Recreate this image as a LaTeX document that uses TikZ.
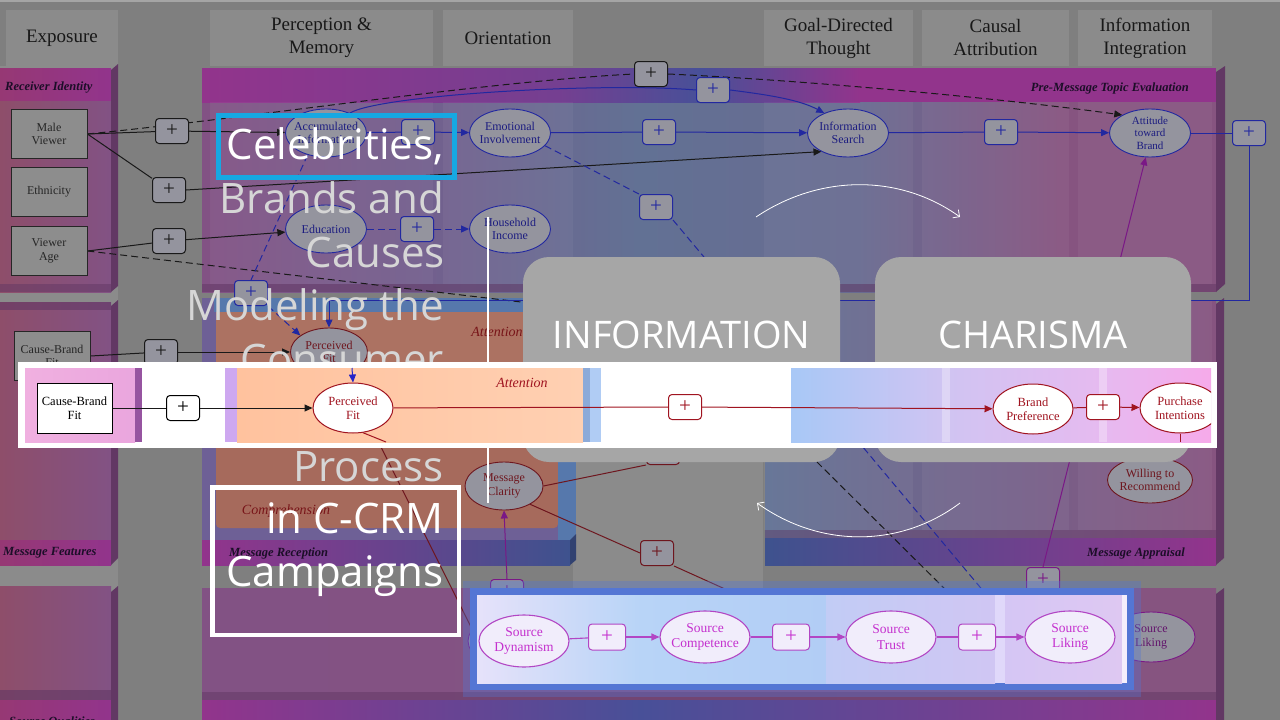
\documentclass[tikz,border=0pt]{standalone}
\usepackage{fontspec}
\setmainfont{Liberation Serif}
\newfontfamily\ttlfont{Open Sans}
\usetikzlibrary{shapes.geometric,arrows.meta}
\definecolor{bgc}{RGB}{127,127,127}
\definecolor{hdrc}{RGB}{139,139,139}
\definecolor{hdrtxt}{RGB}{24,24,24}
\definecolor{topline}{RGB}{165,165,165}
\definecolor{magbar}{RGB}{146,52,140}
\definecolor{magbarL}{RGB}{150,56,116}
\definecolor{barblue}{RGB}{72,80,152}
\definecolor{bandpur}{RGB}{130,82,132}
\definecolor{bandmid}{RGB}{114,96,142}
\definecolor{bandblue}{RGB}{98,113,148}
\definecolor{bandpink}{RGB}{134,84,128}
\definecolor{leftred}{RGB}{142,78,106}
\definecolor{edgec}{RGB}{98,56,100}
\definecolor{lbltxt}{RGB}{28,14,40}
\definecolor{navyt}{RGB}{28,28,128}
\definecolor{bluel}{RGB}{34,40,160}
\definecolor{nodefill}{RGB}{148,148,158}
\definecolor{boxfill}{RGB}{141,141,141}
\definecolor{dred}{RGB}{110,22,30}
\definecolor{dpurp}{RGB}{122,24,134}
\definecolor{recpur}{RGB}{110,96,150}
\definecolor{orangeA}{RGB}{172,114,98}
\definecolor{orangeB}{RGB}{166,106,92}
\definecolor{recblue}{RGB}{86,120,172}
\definecolor{recdark}{RGB}{62,82,142}
\definecolor{infobox}{RGB}{166,166,166}
\definecolor{cyanc}{RGB}{22,168,226}
\definecolor{ttlgray}{RGB}{214,214,214}
\definecolor{brred}{RGB}{160,20,32}
\definecolor{brpink}{RGB}{240,176,224}
\definecolor{brpink2}{RGB}{234,166,222}
\definecolor{brpurp}{RGB}{150,84,160}
\definecolor{brlav}{RGB}{206,168,240}
\definecolor{brorange}{RGB}{255,194,158}
\definecolor{brorange2}{RGB}{255,208,178}
\definecolor{brblueA}{RGB}{176,204,244}
\definecolor{brblueB}{RGB}{140,170,216}
\definecolor{grA}{RGB}{168,200,246}
\definecolor{grB}{RGB}{208,196,242}
\definecolor{grC}{RGB}{230,186,240}
\definecolor{grD}{RGB}{246,170,234}
\definecolor{bluearrow}{RGB}{36,36,200}
\definecolor{glow}{RGB}{84,118,212}
\definecolor{lsA}{RGB}{230,226,250}
\definecolor{lsB}{RGB}{184,212,247}
\definecolor{lsC}{RGB}{178,205,245}
\definecolor{lsD}{RGB}{194,204,245}
\definecolor{lsE}{RGB}{208,198,243}
\definecolor{lsF}{RGB}{224,216,250}
\definecolor{lsG}{RGB}{213,198,244}
\definecolor{lsH}{RGB}{222,200,242}
\definecolor{srcmag}{RGB}{196,48,206}
\definecolor{srcline}{RGB}{178,70,196}
\definecolor{srcfill}{RGB}{241,237,251}
\definecolor{attred}{RGB}{120,20,24}
\pgfdeclarelayer{base}
\pgfdeclarelayer{lines}
\pgfdeclarelayer{top}
\pgfsetlayers{base,lines,main,top}
\begin{document}
\begin{tikzpicture}[x=1pt,y=-1pt,
  hdr/.style={fill=hdrc, text=hdrtxt, font=\fontsize{19}{23}\selectfont, align=center, inner sep=0pt},
  bglabel/.style={font=\fontsize{12.5}{14}\selectfont\bfseries\itshape, text=lbltxt, inner sep=0pt},
  itlabel/.style={font=\fontsize{14}{16}\selectfont\itshape, text=attred, inner sep=0pt},
  bgbox/.style={rectangle, draw=black!85, line width=0.9pt, fill=boxfill, minimum width=76pt, minimum height=49pt, inner sep=0pt, align=center, font=\fontsize{12}{13.5}\selectfont, text=black!85},
  bgell/.style={ellipse, draw=bluel, line width=0.9pt, fill=nodefill, minimum width=81pt, minimum height=48pt, inner xsep=-6pt, inner ysep=0pt, align=center, font=\fontsize{12}{13.5}\selectfont, text=navyt},
  bgellr/.style={bgell, draw=dred, text=dred},
  pl/.style={rectangle, rounded corners=3.5pt, draw=#1, line width=1pt, fill=nodefill, text=#1, minimum width=33pt, minimum height=25pt, inner sep=0pt, font=\fontsize{21}{21}\selectfont},
  tip/.style={-{Triangle[length=8pt,width=7pt]}},
  dsh/.style={dash pattern=on 7pt off 4pt},
  bln/.style={draw=bluel, line width=1pt},
  kln/.style={draw=black!90, line width=1pt},
  rln/.style={draw=dred, line width=1pt},
  pln/.style={draw=dpurp, line width=1pt},
  brln/.style={draw=brred, line width=1pt},
  sln/.style={draw=srcline, line width=1.1pt},
  brell/.style={ellipse, draw=brred, line width=1pt, fill=white, text=brred, minimum width=80pt, minimum height=50pt, inner xsep=-5pt, inner ysep=0pt, align=center, font=\fontsize{12.5}{14}\selectfont},
  brbox/.style={rectangle, draw=black, line width=1pt, fill=white, minimum width=75pt, minimum height=50pt, inner sep=0pt, align=center, font=\fontsize{12.5}{14}\selectfont},
  srcell/.style={ellipse, draw=srcline, line width=1.1pt, fill=srcfill, text=srcmag, minimum width=90pt, minimum height=52pt, inner xsep=-6pt, inner ysep=0pt, align=center, font=\fontsize{13.5}{15.5}\selectfont},
  spl/.style={pl=srcline, fill=srcfill, text=srcmag, minimum width=37pt, minimum height=26pt},
  ttl/.style={font=\ttlfont\fontsize{42}{50}\selectfont, inner sep=0pt, anchor=base east},
  bigtxt/.style={font=\ttlfont\fontsize{38}{40}\selectfont, text=white, inner sep=0pt, anchor=base}
]
\useasboundingbox (0,0) rectangle (1280,720);

%================ BASE LAYER: background, headers, bands
\begin{pgfonlayer}{base}
\fill[bgc] (0,0) rectangle (1280,720);
\fill[topline] (0,0) rectangle (1280,2);
\fill[hdrc] (0,66) rectangle (118,720);
\fill[hdrc] (573,292) rectangle (763,588);
\node[hdr, minimum width=112pt, minimum height=56pt] (hexp) at (62,38) {\raisebox{2pt}{Exposure}};
\node[hdr, minimum width=223pt, minimum height=56pt] (hpm) at (321.5,38) {Perception \&\\Memory};
\node[hdr, minimum width=130pt, minimum height=56pt] (hor) at (508,38) {Orientation};
\node[hdr, minimum width=149pt, minimum height=56pt] (hgd) at (838.5,38) {Goal-Directed\\Thought};
\node[hdr, minimum width=147pt, minimum height=56pt] (hca) at (995.5,38) {Causal\\Attribution};
\node[hdr, minimum width=134pt, minimum height=56pt] (hii) at (1145,38) {Information\\Integration};

% left column panels
\shade[left color=leftred, right color=bandpur] (0,100) rectangle (111,292);
\shade[left color=magbarL, right color=magbar] (0,68) rectangle (111,100);
\fill[edgec] (111,70) -- (118,64) -- (118,286) -- (111,292) -- cycle;
\fill[edgec, opacity=0.5] (0,284) rectangle (111,292);
\shade[left color=leftred, right color=bandpur] (0,302) rectangle (111,540);
\fill[edgec, opacity=0.6] (0,302) rectangle (111,310);
\shade[left color=magbarL, right color=magbar] (0,540) rectangle (111,565);
\fill[edgec] (111,306) -- (118,300) -- (118,558) -- (111,565) -- cycle;
\shade[left color=leftred, right color=bandpur] (0,586) rectangle (111,700);
\fill[edgec, opacity=0.6] (0,690) rectangle (111,700);
\shade[left color=magbarL, right color=magbar] (0,700) rectangle (111,720);
\fill[edgec] (111,592) -- (118,586) -- (118,720) -- (111,720) -- cycle;

% main top band
\shade[left color=bandpur, right color=bandmid] (202,102) rectangle (430,292);
\shade[left color=bandmid, right color=bandblue] (429.5,102) rectangle (640,292);
\shade[left color=bandblue, right color=bandblue!80!bandpur] (639.5,102) rectangle (860,292);
\shade[left color=bandblue!80!bandpur, right color=bandpink] (859.5,102) rectangle (1060,292);
\fill[bandpink] (1059.5,102) rectangle (1216,292);
\shade[left color=magbar, right color=magbar!60!barblue] (202,68) rectangle (560,102);
\shade[left color=magbar!60!barblue, right color=barblue] (559.5,68) rectangle (700,102);
\shade[left color=barblue, right color=magbar] (699.5,68) rectangle (860,102);
\fill[magbar] (859.5,68) rectangle (1216,102);
\fill[edgec] (1216,72) -- (1225,66) -- (1225,284) -- (1216,292) -- cycle;
\fill[edgec, opacity=0.5] (202,284) rectangle (1216,292);
\foreach \a/\b in {210/433,443/573,764/913,922/1069,1078/1212}
  \fill[white, opacity=0.045] (\a,102) rectangle (\b,284);

% message reception panel
\fill[recpur] (202,298) rectangle (576,540);
\fill[recblue] (214,298) rectangle (576,312);
\fill[orangeA] (216,312) rectangle (560,420);
\fill[orangeB, rounded corners=4pt] (216,416) rectangle (558,528);
\fill[recblue] (558,312) rectangle (576,540);
\shade[left color=magbar, right color=recdark] (202,540) rectangle (570,565);
\fill[recdark!80!black] (570,540) -- (576,534) -- (576,560) -- (570,565) -- cycle;

% message appraisal panel
\shade[left color=bandblue, right color=bandpink] (765,300) rectangle (1216,538);
\fill[edgec, opacity=0.4] (765,530) rectangle (1216,538);
\shade[left color=recdark, right color=magbar] (765,538) rectangle (1216,565);
\fill[edgec] (1216,304) -- (1224,298) -- (1224,558) -- (1216,565) -- cycle;
\foreach \a/\b in {764/913,922/1069,1078/1212}
  \fill[white, opacity=0.045] (\a,300) rectangle (\b,530);

% bottom band
\shade[left color=bandpur, right color=bandpink] (202,588) rectangle (1216,700);
\fill[edgec, opacity=0.5] (202,692) rectangle (1216,700);
\shade[left color=magbar, right color=barblue] (202,700) rectangle (640,720);
\shade[left color=barblue, right color=magbar] (639.5,700) rectangle (1216,720);
\fill[edgec] (1216,594) -- (1224,588) -- (1224,720) -- (1216,720) -- cycle;

% band labels
\node[bglabel, anchor=west] (lri) at (5,88) {Receiver Identity};
\node[bglabel, anchor=west] (lmf) at (3,553) {Message Features};
\node[bglabel, anchor=base west] (lsq) at (9,725) {Source Qualities};
\node[bglabel, anchor=east] (lpm) at (1189,88) {Pre-Message Topic Evaluation};
\node[bglabel, anchor=west] (lmr) at (229,553) {Message Reception};
\node[bglabel, anchor=east] (lma) at (1185,553) {Message Appraisal};
\node[itlabel] (latt) at (497,332) {Attention};
\node[itlabel] (lcomp) at (286,511) {Comprehension};
\end{pgfonlayer}

%================ MAIN LAYER: background diagram nodes
\node[bgbox] (mv) at (49,134) {Male\\Viewer};
\node[bgbox] (eth) at (49,191.5) {Ethnicity};
\node[bgbox] (va) at (49,251) {Viewer\\Age};
\node[bgbox] (cbf) at (52,356) {Cause-Brand\\Fit};
\node[bgell] (ai) at (326,133) {Accumulated\\Information};
\node[bgell] (ei) at (510,133) {Emotional\\Involvement};
\node[bgell] (edu) at (326,229) {Education};
\node[bgell] (hi) at (510,229) {Household\\Income};
\node[bgell] (is) at (848,133) {Information\\Search};
\node[bgell, inner ysep=-3pt, font=\fontsize{11}{12.5}\selectfont] (atb) at (1150,133) {Attitude\\toward\\Brand};
\node[bgellr, minimum width=77pt] (pf) at (329,352) {Perceived\\Fit};
\node[bgellr, minimum width=78pt] (mc) at (504,486) {Message\\Clarity};
\node[bgellr, minimum width=85pt, minimum height=46pt] (wr) at (1150,480) {Willing to\\Recommend};
\node[bgell, draw=dpurp, text=dpurp!80!black, minimum width=88pt, minimum height=50pt] (sl) at (1151,637) {Source\\Liking};
\node[bgell, draw=dpurp, minimum width=94pt, minimum height=52pt] (sd) at (515,641) {};

\node[pl=black!90] (p1) at (172,131) {+};
\node[pl=black!90] (p2) at (169,190) {+};
\node[pl=black!90] (p3) at (169,241) {+};
\node[pl=bluel] (p4) at (418,132) {+};
\node[pl=bluel] (p5) at (417,229) {+};
\node[pl=black!90] (p6) at (651,74) {+};
\node[pl=bluel] (p7) at (713,90) {+};
\node[pl=bluel] (p8) at (659,132) {+};
\node[pl=bluel] (p9) at (656,207) {+};
\node[pl=bluel] (p10) at (251,293) {+};
\node[pl=bluel] (p11) at (1001,132) {+};
\node[pl=bluel] (p12) at (1249,133) {+};
\node[pl=black!90] (p13) at (161,352) {+};
\node[pl=dred] (p14) at (657,553) {+};
\node[pl=dred] (p15) at (663,452) {+};
\node[pl=dpurp] (p16) at (507,592) {+};
\node[pl=dpurp] (p17) at (1043,580) {+};

\coordinate (dA) at (674,320);
\coordinate (dB) at (960,604);
\coordinate (dC) at (995,605);
\coordinate (dD) at (745,598);
\coordinate (bk) at (329,300);

%================ LINES LAYER: background connectors
\begin{pgfonlayer}{lines}
\draw[kln] (mv.east) -- (p1);
\draw[kln,tip] (p1) -- (ai);
\draw[kln] (mv.east) -- (p2);
\draw[kln,tip] (p2.east) -- (is.215);
\draw[kln] (va.east) -- (p3);
\draw[kln,tip] (p3) -- (edu);
\draw[kln,dsh] (mv.east) .. controls (250,118) and (480,82) .. (p6.west);
\draw[kln,dsh,tip] (p6.east) .. controls (800,80) and (1000,98) .. (atb.147);
\draw[kln,dsh] (va.east) -- (dA) -- (dB);
\draw[bln] (ai) -- (p4);
\draw[bln,tip] (p4) -- (ei);
\draw[bln] (ei) -- (p8);
\draw[bln,tip] (p8) -- (is);
\draw[bln] (is) -- (p11);
\draw[bln,tip] (p11) -- (atb);
\draw[bln] (atb) -- (p12);
\draw[bln,tip] (p12.south) |- (bk) -- (pf.north);
\draw[bln] (ai.40) .. controls (380,95) and (600,82) .. (p7.west);
\draw[bln,tip] (p7.east) .. controls (770,95) and (800,100) .. (is.140);
\draw[bln,dsh] (ei.-20) -- (p9.north west);
\draw[bln,dsh] (p9.south east) -- (dC);
\draw[bln,dsh] (edu) -- (p5);
\draw[bln,dsh,tip] (p5) -- (hi);
\draw[bln,dsh] (ai.230) -- (p10.north);
\draw[bln,dsh,tip] (p10.south east) -- (pf.150);
\draw[kln] (cbf.east) -- (p13);
\draw[kln,tip] (p13) -- (pf);
\draw[rln] (pf.-55) -- (sd.165);
\draw[rln] (mc.east) -- (p15.south west);
\draw[rln] (mc.-35) -- (p14.west);
\draw[rln] (p14.south east) -- (dD);
\draw[pln,tip] (p16.north) -- (mc.south);
\draw[pln,tip] (p17.north) -- (atb.-100);
\end{pgfonlayer}

%================ TOP LAYER: slide overlays
\begin{pgfonlayer}{top}
\draw[white, line width=0.8pt, -{Straight Barb[length=5pt]}] (756,217) .. controls (820,174) and (900,174) .. (960,217);
\draw[white, line width=0.8pt, -{Straight Barb[length=5pt]}] (960,503) .. controls (900,548) and (820,548) .. (757,503);

\coordinate (vla) at (488,217);
\coordinate (vlb) at (488,503);
\draw[white, line width=2.5pt] (vla) -- (vlb);

\node[ttl, text=white] (t1) at (444,159) {Celebrities,};
\node[ttl, text=ttlgray] (t2) at (444,213) {Brands and};
\node[ttl, text=ttlgray] (t3) at (445,267) {Causes};
\node[ttl, text=ttlgray] (t4) at (444,320) {Modeling the};
\node[ttl, text=ttlgray] (t5) at (444,374) {Consumer};
\node[ttl, text=ttlgray] (t6) at (444,481) {Process};
\node[ttl, text=white] (t7) at (444,533) {in C-CRM};
\node[ttl, text=white] (t8) at (444,586) {Campaigns};
\node[draw=cyanc, line width=5pt, minimum width=236pt, minimum height=62pt, inner sep=0pt] (cyb) at (336.5,146.5) {};
\node[draw=white, line width=4.5pt, minimum width=246.5pt, minimum height=147.5pt, inner sep=0pt] (frm) at (335.5,561) {};

\fill[infobox, rounded corners=26pt] (523,257) rectangle (840,462);
\fill[infobox, rounded corners=26pt] (875,257) rectangle (1191,462);
\node[bigtxt] (tinfo) at (681.5,348) {INFORMATION};
\node[bigtxt] (tchar) at (1033,348) {CHARISMA};

% bright attention strip
\fill[white] (18,362) rectangle (1217,448);
\begin{scope}
\clip (18,362) rectangle (1211,448);
\shade[left color=brpink, right color=brpink2] (25,368) rectangle (135,442);
\fill[brpurp] (135,368) rectangle (142,442);
\fill[brlav] (225,368) rectangle (237,442);
\shade[left color=brorange, right color=brorange2] (237,368) rectangle (583,442);
\fill[brblueB] (583,368) rectangle (590,442);
\fill[brblueA] (590,368) rectangle (601,442);
\shade[left color=grA, right color=grB] (791,368) rectangle (946,442);
\shade[left color=grB, right color=grC] (945.5,368) rectangle (1103,442);
\shade[left color=grC, right color=grD] (1102.5,368) rectangle (1211,442);
\fill[white, opacity=0.3] (942,368) rectangle (950,442);
\fill[white, opacity=0.3] (1099,368) rectangle (1107,442);
\node[itlabel, text=brred] (batt) at (522,383) {Attention};
\node[brbox] (bcbf) at (74.5,408) {Cause-Brand\\Fit};
\node[pl=black, fill=white] (bp1) at (183,408) {+};
\node[brell] (bpf) at (353,408) {Perceived\\Fit};
\node[pl=brred, fill=white] (bp2) at (685,407) {+};
\node[brell] (bbp) at (1033,409) {Brand\\Preference};
\node[pl=brred, fill=white] (bp3) at (1103,407) {+};
\node[brell] (bpi) at (1180,408) {Purchase\\Intentions};
\coordinate (bt) at (352,368);
\coordinate (bd) at (386,442);
\coordinate (bpd) at (1180,442);
\draw[kln] (bcbf) -- (bp1);
\draw[kln,tip] (bp1) -- (bpf);
\draw[brln] (bpf) -- (bp2);
\draw[brln,tip] (bp2) -- (bbp);
\draw[brln] (bbp) -- (bp3);
\draw[brln,tip] (bp3) -- (bpi);
\draw[draw=bluearrow, line width=1pt, tip] (bt) -- (bpf.north);
\draw[brln] (bpf.-68) -- (bd);
\draw[brln] (bpi.south) -- (bpd);
\end{scope}

% bright source strip
\fill[glow, opacity=0.35] (463,581) rectangle (1141,697);
\fill[glow] (470,588) rectangle (1134,690);
\shade[left color=lsA, right color=lsB] (477,595) rectangle (640,683);
\shade[left color=lsB, right color=lsC] (639.5,595) rectangle (826,683);
\shade[left color=lsD, right color=lsE] (826,595) rectangle (995,683);
\fill[lsF] (995,595) rectangle (1005,683);
\shade[left color=lsG, right color=lsH] (1005,595) rectangle (1122,683);
\fill[white!70!lsH] (1122,595) rectangle (1127,683);
\node[srcell] (ssd) at (524,641) {Source\\Dynamism};
\node[spl] (spa) at (607,637) {+};
\node[srcell] (ssc) at (705,637) {Source\\Competence};
\node[spl] (spb) at (791,637) {+};
\node[srcell] (sst) at (891,637) {Source\\Trust};
\node[spl] (spc) at (977,637) {+};
\node[srcell] (ssl) at (1070,637) {Source\\Liking};
\draw[sln] (ssd) -- (spa);
\draw[sln,tip] (spa) -- (ssc);
\draw[sln] (ssc) -- (spb);
\draw[sln,tip] (spb) -- (sst);
\draw[sln] (sst) -- (spc);
\draw[sln,tip] (spc) -- (ssl);
\end{pgfonlayer}
\end{tikzpicture}
\end{document}
